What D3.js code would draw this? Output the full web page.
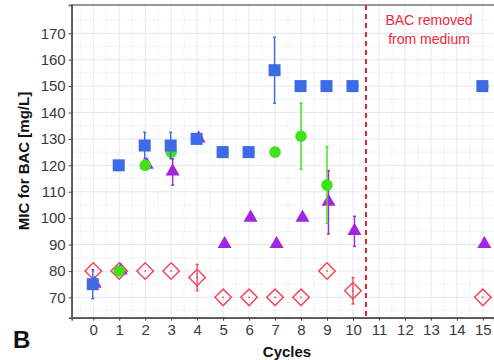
<!DOCTYPE html>
<html><head><meta charset="utf-8">
<script src="https://cdn.jsdelivr.net/npm/d3@7/dist/d3.min.js"></script>
<style>body{margin:0;background:#fff}svg{display:block}</style>
</head><body><svg id="c" width="494" height="360"></svg>
<script>
const xTicks = [0,1,2,3,4,5,6,7,8,9,10,11,12,13,14,15];
const yTicks = [70,80,90,100,110,120,130,140,150,160,170];

// series: cycles, value, error half-width
const blueX  = [0,1,2,3,4,5,6,7,8,9,10,15];
const blueY  = [75,120,127.5,127.5,130,125,125,156,150,150,150,150];
const blueE  = [5.5,0,5,5,0,0,0,12.5,0,0,0,0];

const greenX = [1,2,3,5,6,7,8,9,10,15];
const greenY = [80,120,125,125,125,125,131,112.5,150,150];
const greenE = [0,0,0,0,0,0,12.5,14.5,0,0];

const purpleX = [0,1,2,3,4,5,6,7,8,9,10,15];
const purpleY = [75,80,120,117.5,130,90,100,90,100,106,95,90];
const purpleE = [0,0,0,5,0,0,0,0,0,12,5.7,0];

const redX = [0,1,2,3,4,5,6,7,8,9,10,15];
const redY = [80,80,80,80,77.5,70,70,70,70,80,72.5,70];
const redE = [0,0,0,0,5,0,0,0,0,0,5,0];

const removalCycle = 10.5;
const noteLines = ["BAC removed","from medium"];

const svg = d3.select("#c");
const L = 71.7, R = 494, T = 5, B = 317.7;
const x = d3.scaleLinear().domain([-0.83, 15.43]).range([L, R]);
const y = d3.scaleLinear().domain([62.3, 180.7]).range([B, T]);

// grid
const g = svg.append("g");
const minorX = d3.range(-0.5, 15.6, 1);
const minorY = d3.range(65, 181, 10);
g.selectAll(".mx").data(minorX).enter().append("line")
  .attr("x1", d=>x(d)).attr("x2", d=>x(d)).attr("y1", T).attr("y2", B)
  .attr("stroke", "#f0f3f8").attr("stroke-width", 0.8);
g.selectAll(".my").data(minorY).enter().append("line")
  .attr("y1", d=>y(d)).attr("y2", d=>y(d)).attr("x1", L).attr("x2", R+10)
  .attr("stroke", "#f0f3f8").attr("stroke-width", 0.8);
g.selectAll(".gx").data(xTicks).enter().append("line")
  .attr("x1", d=>x(d)).attr("x2", d=>x(d)).attr("y1", T).attr("y2", B)
  .attr("stroke", "#e3e8f1").attr("stroke-width", 1);
g.selectAll(".gy").data(yTicks).enter().append("line")
  .attr("y1", d=>y(d)).attr("y2", d=>y(d)).attr("x1", L).attr("x2", R+10)
  .attr("stroke", "#e3e8f1").attr("stroke-width", 1);

// border
svg.append("rect").attr("x", L).attr("y", T).attr("width", R - L + 20).attr("height", B - T)
  .attr("fill", "none").attr("stroke", "#777").attr("stroke-width", 1.5);

// axes
const yAxis = d3.axisLeft(y).tickValues(yTicks).tickSize(3).tickPadding(3);
const xAxis = d3.axisBottom(x).tickValues(xTicks).tickSize(3).tickPadding(4);
const ya = svg.append("g").attr("transform", `translate(${L},0)`).call(yAxis);
const xa = svg.append("g").attr("transform", `translate(0,${B})`).call(xAxis);
[ya, xa].forEach(a => {
  a.select(".domain").attr("stroke", "#555").attr("stroke-width", 1.5);
  a.selectAll(".tick line").attr("stroke", "#444");
  a.selectAll(".tick text").attr("fill", "#3a3a3a")
    .style("font-family", "Liberation Sans, Arial, sans-serif").style("font-size", "15px");
});

// dashed line
svg.append("line").attr("x1", x(removalCycle)).attr("x2", x(removalCycle))
  .attr("y1", T).attr("y2", B).attr("stroke", "#e8202e").attr("stroke-width", 2)
  .attr("stroke-dasharray", "5,4");
svg.append("text").attr("x", 429).attr("y", 25).attr("text-anchor", "middle")
  .attr("fill", "#f0283a").style("font-family", "Liberation Sans, Arial, sans-serif").style("font-size", "14px")
  .selectAll("tspan").data(noteLines).enter().append("tspan")
  .attr("x", 429).attr("dy", (d,i)=> i ? 19 : 0).text(d=>d);

function errBars(X, Y, E, color, dx){
  const d = X.map((v,i)=>({x:v, y:Y[i], e:E[i]})).filter(d=>d.e>0);
  const gg = svg.append("g").attr("stroke", color).attr("stroke-width", 1.4);
  d.forEach(p => {
    const cx = x(p.x)+dx;
    gg.append("line").attr("x1", cx).attr("x2", cx).attr("y1", y(p.y-p.e)).attr("y2", y(p.y+p.e));
    gg.append("line").attr("x1", cx-1.5).attr("x2", cx+1.5).attr("y1", y(p.y-p.e)).attr("y2", y(p.y-p.e));
    gg.append("line").attr("x1", cx-1.5).attr("x2", cx+1.5).attr("y1", y(p.y+p.e)).attr("y2", y(p.y+p.e));
  });
}
function pts(X, Y){ return X.map((v,i)=>({x:v, y:Y[i]})); }

// red diamonds
const red = "#f24a5c";
errBars(redX, redY, redE, red, 0);
const rg = svg.append("g");
pts(redX, redY).forEach(p => {
  rg.append("path").attr("d", d3.symbol(d3.symbolSquare, 136)())
    .attr("transform", `translate(${x(p.x)},${y(p.y)}) rotate(45)`)
    .attr("fill", "none").attr("stroke", red).attr("stroke-width", 1.5);
  rg.append("circle").attr("cx", x(p.x)).attr("cy", y(p.y)).attr("r", 0.9).attr("fill", red);
});

// purple triangles
const purple = "#a524e0";
errBars(purpleX, purpleY, purpleE, purple, 1.5);
svg.append("g").selectAll("path").data(pts(purpleX, purpleY)).enter().append("path")
  .attr("d", d3.symbol(d3.symbolTriangle, 85)())
  .attr("transform", d=>`translate(${x(d.x)+1.5},${y(d.y)-0.5})`).attr("fill", purple);

// green circles
const green = "#3fe21a";
errBars(greenX, greenY, greenE, green, 0);
svg.append("g").selectAll("circle").data(pts(greenX, greenY)).enter().append("circle")
  .attr("cx", d=>x(d.x)).attr("cy", d=>y(d.y)).attr("r", 5.8).attr("fill", green);

// blue squares
const blue = "#3d6be6";
errBars(blueX, blueY, blueE, blue, -0.5);
svg.append("g").selectAll("rect").data(pts(blueX, blueY)).enter().append("rect")
  .attr("x", d=>x(d.x)-6.5).attr("y", d=>y(d.y)-6).attr("width", 12).attr("height", 12).attr("fill", blue);

// axis titles
svg.append("text").attr("x", 287).attr("y", 357).attr("text-anchor", "middle")
  .style("font-family", "Liberation Sans, Arial, sans-serif").style("font-weight", "bold").style("font-size", "15px")
  .attr("fill", "#111").text("Cycles");
svg.append("text").attr("transform", "translate(29,161) rotate(-90)").attr("text-anchor", "middle")
  .style("font-family", "Liberation Sans, Arial, sans-serif").style("font-weight", "bold").style("font-size", "15px")
  .attr("fill", "#111").text("MIC for BAC [mg/L]");
svg.append("text").attr("x", 13).attr("y", 348)
  .style("font-family", "Liberation Sans, Arial, sans-serif").style("font-weight", "bold").style("font-size", "24px")
  .attr("fill", "#111").text("B");
</script></body></html>
